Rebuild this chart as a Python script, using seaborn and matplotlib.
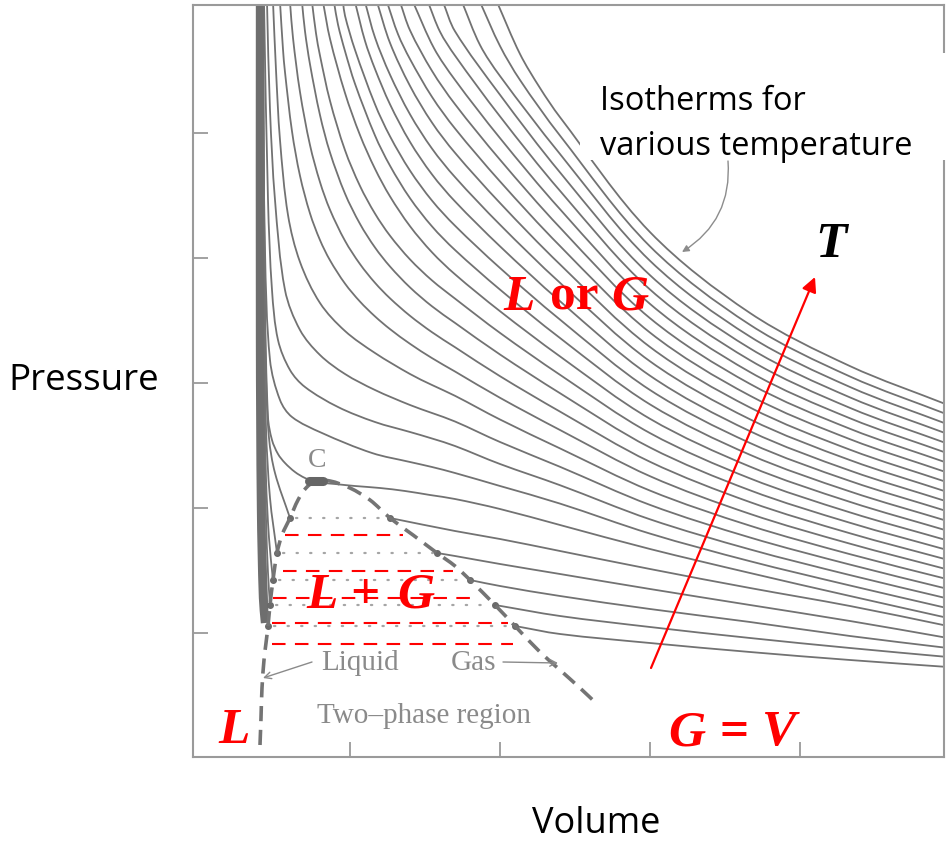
import matplotlib
matplotlib.use("Agg")
import matplotlib.pyplot as plt
from matplotlib.patches import Rectangle, PathPatch
from matplotlib.path import Path
import numpy as np
import pandas as pd
import seaborn as sns

# ---------------- data (volume / pressure in arbitrary chart units) ----------------
x_ticks = [150, 300, 450, 600]
y_ticks = [125, 250, 375, 500, 625]

# critical isotherm (through C) and supercritical isotherms
t05_v = [63, 65, 68, 72, 78, 85, 95, 105, 116, 135, 155, 180, 205, 230, 255, 300, 360, 450, 550, 650, 748]
t05_p = [756, 460, 341, 318, 304, 295, 286, 280, 276, 274, 272, 270, 267, 263, 259, 249, 233, 209, 185, 162, 140]
t06_v = [62, 65, 70, 80, 92, 122, 172, 210, 232, 255, 300, 360, 450, 550, 650, 748]
t06_p = [756, 508, 398, 358, 341, 325, 305, 296, 291, 285, 272, 254.4, 224.4, 196.8, 172.5, 149.7]
t07_v = [64, 68, 72, 78, 90, 105, 138, 175, 210, 232, 255, 300, 360, 450, 550, 650, 748]
t07_p = [756, 558, 468, 418, 388, 371, 351, 336, 326, 319.5, 312, 294, 272.8, 238.7, 208.6, 182.9, 159.4]
t08_v = [67, 70, 75, 85, 100, 120, 145, 175, 210, 232, 255, 300, 360, 450, 550, 650, 748]
t08_p = [756, 648, 558, 468, 428, 403, 384, 368, 353, 345, 336.5, 316, 291.2, 253.1, 220.5, 193.4, 169.0]
t09_v = [73, 76, 80, 88, 100, 120, 145, 175, 210, 232, 255, 300, 360, 450, 550, 650, 748]
t09_p = [756, 688, 618, 543, 496, 455, 427, 405, 384, 373, 362.2, 338.5, 309.6, 267.4, 232.3, 203.8, 178.7]
t10_v = [80, 83, 85, 92, 100, 110, 120, 130, 145, 160, 175, 190, 210, 232, 255, 300, 360, 450, 550, 650, 748]
t10_p = [756, 708.5, 685.8, 626.7, 582.2, 544.6, 517.9, 497.7, 474.4, 456.4, 441.6, 428.9, 414.2, 399.9, 386.5, 360.2, 328.0, 281.8, 244.1, 214.3, 188.4]
t11_v = [90, 93, 100, 110, 120, 130, 145, 160, 175, 190, 210, 232, 255, 300, 360, 450, 550, 650, 748]
t11_p = [756, 720, 666, 612.9, 575.9, 548.2, 517.2, 493.9, 475.2, 459.7, 442.2, 425.8, 410.8, 381.8, 346.4, 296.2, 255.9, 224.7, 198.1]
t12_v = [102, 105, 110, 120, 130, 145, 160, 175, 190, 210, 232, 255, 300, 360, 450, 550, 650, 748]
t12_p = [756, 726.7, 693.7, 642.9, 605.5, 564.4, 534.1, 510.5, 491.5, 470.6, 451.7, 435.1, 403.5, 364.8, 310.5, 267.7, 235.2, 207.8]
t13_v = [112, 116, 120, 130, 145, 160, 175, 190, 210, 232, 255, 300, 360, 450, 550, 650, 748]
t13_p = [756, 724.7, 702.4, 657.2, 607.8, 572.0, 544.4, 522.3, 498.6, 477.6, 459.4, 425.1, 383.2, 324.9, 279.6, 245.6, 217.4]
t14_v = [123, 130, 145, 160, 175, 190, 210, 232, 255, 300, 360, 450, 550, 650, 748]
t14_p = [756, 719.2, 665.0, 622.9, 589.2, 561.6, 531.8, 505.7, 483.7, 446.8, 401.6, 339.2, 291.4, 256.1, 227.1]
t15_v = [134, 138, 145, 155, 175, 190, 210, 232, 255, 300, 360, 450, 550, 650, 748]
t15_p = [756, 733.4, 706.9, 674.2, 622.5, 592.3, 559.8, 531.6, 508.0, 468.4, 420.0, 353.6, 303.2, 266.5, 236.8]
t16_v = [143, 145, 155, 175, 190, 210, 232, 255, 300, 360, 450, 550, 650, 748]
t16_p = [756, 742.3, 708.1, 653.7, 621.7, 587.4, 557.4, 532.3, 490.0, 438.4, 368.0, 315.0, 277.0, 246.5]
t17_v = [155, 165, 175, 190, 210, 232, 255, 300, 360, 450, 550, 650, 748]
t17_p = [756, 717.1, 689.0, 653.7, 616.1, 583.6, 556.6, 511.7, 456.8, 382.3, 326.8, 287.4, 256.2]
t18_v = [165, 175, 190, 210, 232, 255, 300, 360, 450, 550, 650, 748]
t18_p = [756, 720.5, 683.3, 643.7, 609.4, 580.9, 533.3, 475.2, 396.7, 338.7, 297.9, 265.8]
t19_v = [177, 190, 210, 232, 255, 300, 360, 450, 550, 650, 748]
t19_p = [756, 715.1, 672.1, 635.4, 605.2, 555.0, 493.6, 411.0, 350.5, 308.3, 275.5]
t20_v = [187, 198, 210, 232, 255, 300, 360, 450, 550, 650, 748]
t20_p = [756, 723.8, 698.9, 661.1, 629.5, 576.6, 512.0, 425.4, 362.3, 318.8, 285.2]
t21_v = [200, 210, 232, 255, 300, 360, 450, 550, 650, 748]
t21_p = [756, 727.7, 687.1, 653.8, 598.3, 530.4, 439.8, 374.1, 329.2, 294.9]
t22_v = [213, 234, 255, 300, 360, 450, 550, 650, 748]
t22_p = [756, 709.8, 678.1, 619.9, 548.8, 454.1, 385.9, 339.7, 304.6]
t23_v = [228, 240, 255, 300, 360, 450, 550, 650, 748]
t23_p = [756, 726.3, 702.4, 641.6, 567.2, 468.5, 397.8, 350.1, 314.2]
t24_v = [243, 255, 300, 360, 450, 550, 650, 748]
t24_p = [756, 726.7, 663.2, 585.6, 482.8, 409.6, 360.6, 323.9]
t25_v = [262, 280, 300, 360, 450, 550, 650, 748]
t25_p = [756, 713, 682, 604.0, 497.2, 421.4, 371.0, 333.6]
t26_v = [280, 300, 320, 360, 450, 550, 650, 748]
t26_p = [756, 712, 678, 622.4, 511.6, 433.2, 381.5, 343.3]
t27_v = [297, 320, 340, 360, 450, 550, 650, 748]
t27_p = [756, 704, 670, 640.8, 525.9, 445.0, 391.9, 353.0]

# subcritical isotherms: liquid branch, flat two-phase part, gas branch
s0_liq_v = [62, 63, 65, 67, 68]
s0_liq_p = [756, 350, 220, 160, 132]
s0_gas_v = [315, 360, 450, 550, 650, 748]
s0_gas_p = [132, 124, 115, 106, 98, 91]
s1_liq_v = [62, 64, 66, 68, 70]
s1_liq_p = [756, 350, 240, 185, 153]
s1_gas_v = [295, 360, 450, 550, 650, 748]
s1_gas_p = [153, 142, 131, 120, 110, 101]
s2_liq_v = [62, 64, 66, 69, 73]
s2_liq_p = [756, 400, 280, 220, 178]
s2_gas_v = [270, 300, 360, 450, 550, 650, 748]
s2_gas_p = [178, 172, 162, 149, 136, 122, 110]
s3_liq_v = [63, 64, 66, 70, 77]
s3_liq_p = [756, 450, 330, 260, 205]
s3_gas_v = [237, 255, 300, 360, 450, 550, 650, 748]
s3_gas_p = [205, 202, 194, 184, 169, 153, 137, 120]
s4_liq_v = [63, 64, 66, 69, 75, 90]
s4_liq_p = [756, 500, 380, 320, 285, 240]
s4_gas_v = [190, 255, 300, 360, 450, 550, 650, 748]
s4_gas_p = [240, 227, 219, 207, 189, 170, 152, 132]

tie_p = [132, 153, 178, 205, 240]
tie_liquid_v = [68, 70, 73, 77, 90]
tie_gas_v = [315, 295, 270, 237, 190]

band_v = [60, 60, 61, 63, 65]
band_p = [756, 420, 250, 160, 135]

boundary_v = [60, 61, 62, 64, 66, 68, 70, 73, 77, 82, 90, 98, 106, 116, 130, 150, 170, 190, 213, 237, 255, 270, 295, 315, 340, 360, 380, 398]
boundary_p = [13, 40, 70, 98, 115, 132, 153, 178, 205, 223, 240, 258, 270, 277, 277, 270, 258, 240, 223, 205, 192, 178, 153, 132, 106, 88, 70, 53]
critical_v = 116
critical_p = 277

red_dash_p = [223, 187, 160, 135, 114]
red_dash_v0 = [85, 83, 73, 72, 72]
red_dash_v1 = [203, 253, 272, 308, 313]

temp_arrow_start = (451, 90)
temp_arrow_end = (615, 481)


def smooth_path(xs, ys):
    """Smooth cubic path through the given points (rendering only)."""
    pts = np.column_stack([xs, ys]).astype(float)
    seg = np.hypot(*np.diff(pts, axis=0).T)
    t = np.concatenate([[0.0], np.cumsum(seg)])
    m = np.zeros_like(pts)
    m[1:-1] = (pts[2:] - pts[:-2]) / (t[2:] - t[:-2])[:, None]
    m[0] = (pts[1] - pts[0]) / seg[0]
    m[-1] = (pts[-1] - pts[-2]) / seg[-1]
    verts = [pts[0]]
    codes = [Path.MOVETO]
    for i in range(len(pts) - 1):
        h = seg[i] / 3.0
        verts += [pts[i] + m[i] * h, pts[i + 1] - m[i + 1] * h, pts[i + 1]]
        codes += [Path.CURVE4] * 3
    return Path(verts, codes)


# ---------------- figure ----------------
sns.set_theme(style="white")
plt.rcParams["font.family"] = ["DejaVu Sans"]

W, H = 952, 843
fig = plt.figure(figsize=(W / 100, H / 100), dpi=100)
fig.patch.set_facecolor("white")
ax = fig.add_axes([193 / W, 1 - 757 / H, 751 / W, 752 / H])
ax.set_xlim(-7, 744)
ax.set_ylim(1, 753)

LINE = "#727272"
FRAME = "#9a9a9a"

isotherms = [
    ("T05", t05_v, t05_p), ("T06", t06_v, t06_p), ("T07", t07_v, t07_p), ("T08", t08_v, t08_p),
    ("T09", t09_v, t09_p), ("T10", t10_v, t10_p), ("T11", t11_v, t11_p), ("T12", t12_v, t12_p),
    ("T13", t13_v, t13_p), ("T14", t14_v, t14_p), ("T15", t15_v, t15_p), ("T16", t16_v, t16_p),
    ("T17", t17_v, t17_p), ("T18", t18_v, t18_p), ("T19", t19_v, t19_p), ("T20", t20_v, t20_p),
    ("T21", t21_v, t21_p), ("T22", t22_v, t22_p), ("T23", t23_v, t23_p), ("T24", t24_v, t24_p),
    ("T25", t25_v, t25_p), ("T26", t26_v, t26_p), ("T27", t27_v, t27_p),
    ("S0L", s0_liq_v, s0_liq_p), ("S0G", s0_gas_v, s0_gas_p),
    ("S1L", s1_liq_v, s1_liq_p), ("S1G", s1_gas_v, s1_gas_p),
    ("S2L", s2_liq_v, s2_liq_p), ("S2G", s2_gas_v, s2_gas_p),
    ("S3L", s3_liq_v, s3_liq_p), ("S3G", s3_gas_v, s3_gas_p),
    ("S4L", s4_liq_v, s4_liq_p), ("S4G", s4_gas_v, s4_gas_p),
]
for name, vv, pp in isotherms:
    ax.add_patch(PathPatch(smooth_path(vv, pp), facecolor="none", edgecolor=LINE,
                           lw=1.3, zorder=2, capstyle="round"))

# thick merged liquid band
ax.add_patch(PathPatch(smooth_path(band_v, band_p), facecolor="none", edgecolor="#6e6e6e",
                       lw=6.0, zorder=2, capstyle="butt"))

# dotted tie lines in the two-phase region
tie_rows = []
for k, (p, v0, v1) in enumerate(zip(tie_p, tie_liquid_v, tie_gas_v)):
    tie_rows += [(k, v0 + 6, p), (k, v1 - 4, p)]
tie_df = pd.DataFrame(tie_rows, columns=["tie", "volume", "pressure"])
sns.lineplot(data=tie_df, x="volume", y="pressure", units="tie", estimator=None, sort=False,
             color="#a5a5a5", lw=1.6, legend=False, ax=ax, zorder=2)
for ln in ax.lines:
    ln.set_linestyle((0, (0.6, 5.5)))
    ln.set_dash_capstyle("round")
ax.plot(tie_liquid_v + tie_gas_v, tie_p + tie_p, ls="none", marker="o", ms=4,
        color="#6a6a6a", zorder=3)

# coexistence (dashed) curve
ax.add_patch(PathPatch(smooth_path(boundary_v, boundary_p), facecolor="none",
                       edgecolor="#747474", lw=2.6, ls=(0, (4.2, 2.4)), zorder=3))
ax.plot([critical_v - 7, critical_v + 7], [critical_p, critical_p], color="#666666",
        lw=6.5, solid_capstyle="round", zorder=4)

# red dashed overlay lines
ax.hlines(red_dash_p, red_dash_v0, red_dash_v1, colors="#ff0000", lw=1.5,
          linestyles=[(0, (6.5, 4.5))], zorder=5)

# red temperature arrow
ax.annotate("", xy=temp_arrow_end, xytext=temp_arrow_start,
            arrowprops=dict(arrowstyle="-|>", color="#ff0000", lw=1.6, mutation_scale=22,
                            shrinkA=0, shrinkB=0), zorder=6)

# scanned-figure labels (gray serif)
GT = "#8a8a8a"
serif = "Liberation Serif"
ax.text(117, 291, "C", color=GT, fontsize=20, family=serif, ha="center", va="baseline")
ax.text(160, 88, "Liquid", color=GT, fontsize=21, family=serif, ha="center", va="baseline")
ax.text(273, 88, "Gas", color=GT, fontsize=21, family=serif, ha="center", va="baseline")
ax.text(224, 35, "Two\u2013phase region", color=GT, fontsize=21, family=serif,
        ha="center", va="baseline")
ax.annotate("", xy=(63, 80), xytext=(112, 96),
            arrowprops=dict(arrowstyle="->", color=GT, lw=1.0, shrinkA=0, shrinkB=0))
ax.annotate("", xy=(358, 95), xytext=(303, 96),
            arrowprops=dict(arrowstyle="->", color=GT, lw=1.0, shrinkA=0, shrinkB=0))

# curved arrow from the isotherm note to the outermost isotherm
ax.annotate("", xy=(482, 506), xytext=(528, 597),
            arrowprops=dict(arrowstyle="-|>", color="#8c8c8c", lw=1.0, mutation_scale=10,
                            connectionstyle="arc3,rad=-0.3", shrinkA=0, shrinkB=0), zorder=6)

# red bold-italic annotations
RED = "#ff0000"
bi = dict(family=serif, fontweight="bold", fontstyle="italic", fontsize=37, va="baseline",
          ha="left", zorder=7)
bu = dict(family=serif, fontweight="bold", fontsize=37, va="baseline", ha="left", zorder=7)
ax.text(303, 448, "L", color=RED, **bi)
ax.text(350, 448, "or", color=RED, **bu)
ax.text(411, 448, "G", color=RED, **bi)
ax.text(106, 150, "L", color=RED, **bi)
ax.text(150, 150, "+", color=RED, **bu)
ax.text(197, 150, "G", color=RED, **bi)
ax.text(18, 15, "L", color=RED, **bi)
ax.text(468, 13, "G", color=RED, **bi)
ax.text(520, 13, "=", color=RED, **bu)
ax.text(562, 13, "V", color=RED, **bi)
ax.text(615, 501, "T", color="black", **bi)

# frame and inward ticks
for s in ax.spines.values():
    s.set_color(FRAME)
    s.set_linewidth(1.5)
ax.set_xticks(x_ticks)
ax.set_yticks(y_ticks)
ax.tick_params(direction="in", length=11, width=1.3, color=FRAME, bottom=True, left=True,
               labelbottom=False, labelleft=False)
ax.set_xlabel("")
ax.set_ylabel("")

# white note box and sans-serif labels
fig.add_artist(Rectangle((580 / W, 1 - 160 / H), 372 / W, 107 / H, transform=fig.transFigure,
                         facecolor="white", edgecolor="none", zorder=5))
sans = "Open Sans"
fig.text(600 / W, 1 - 110 / H, "Isotherms for", fontsize=23.5, family=sans, color="black",
         ha="left", va="baseline", zorder=6)
fig.text(600 / W, 1 - 155 / H, "various temperature", fontsize=23.5, family=sans,
         color="black", ha="left", va="baseline", zorder=6)
fig.text(8 / W, 1 - 390 / H, "Pressure", fontsize=26.5, family=sans, color="black",
         ha="left", va="baseline")
fig.text(596 / W, 1 - 833 / H, "Volume", fontsize=26, family=sans, color="black",
         ha="center", va="baseline")

fig.savefig("out.png", dpi=100, facecolor="white")
